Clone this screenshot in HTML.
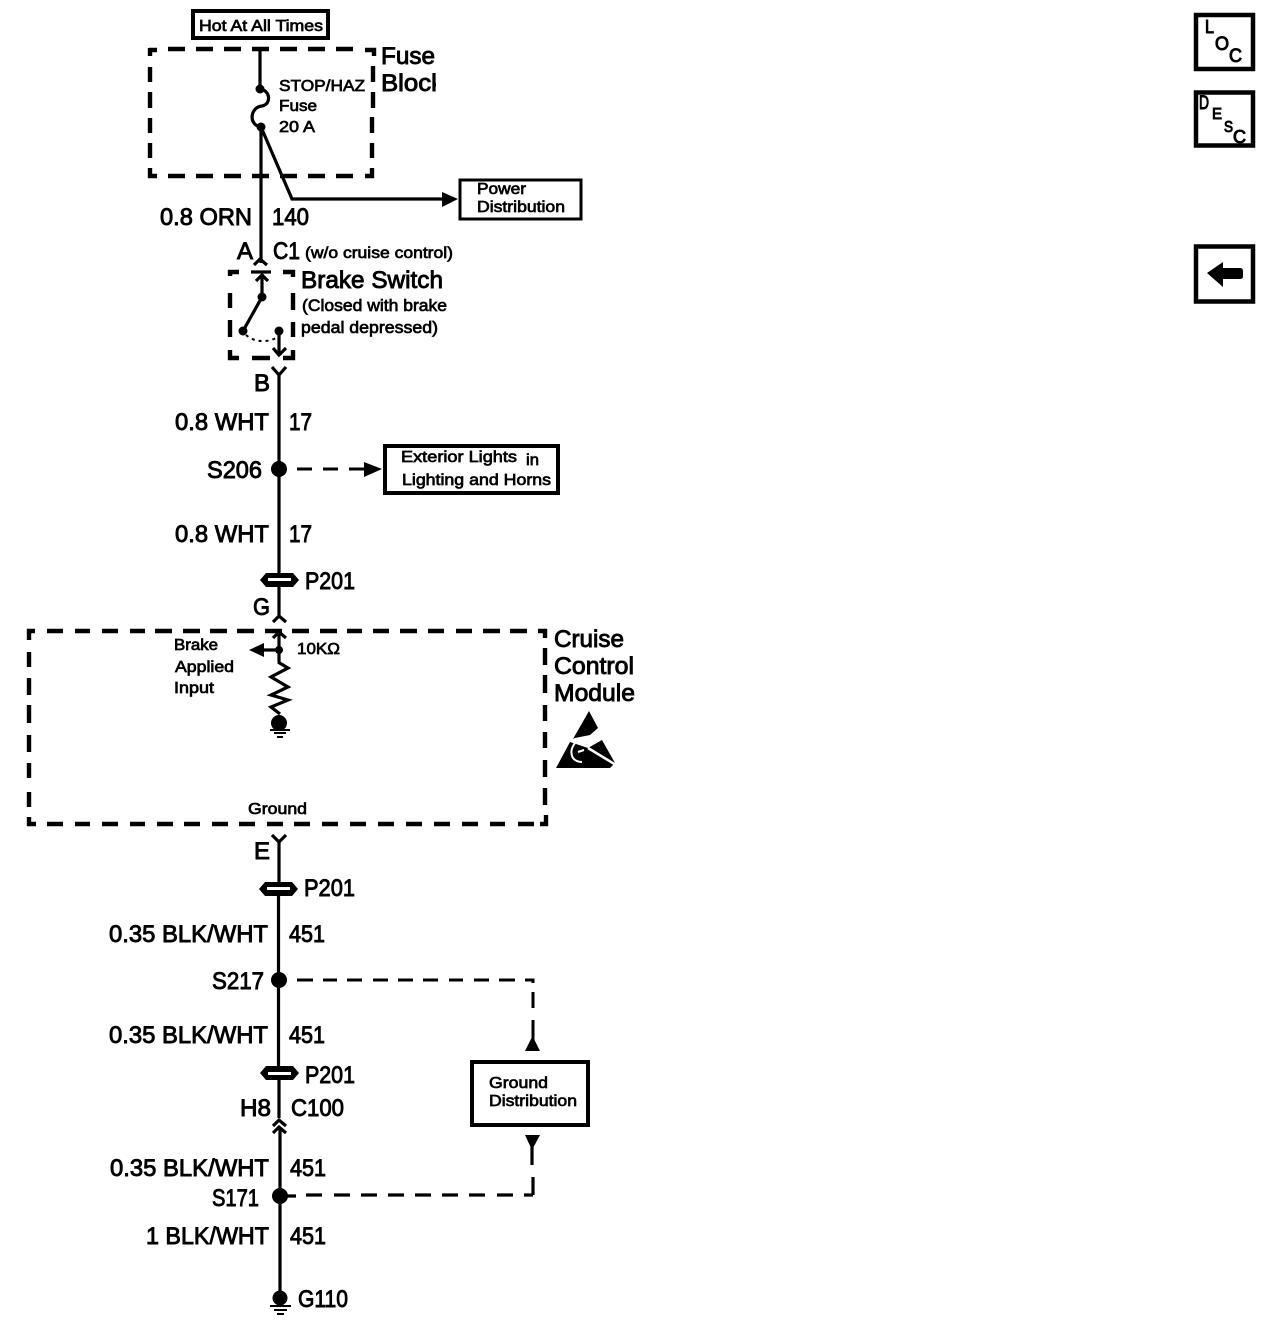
<!DOCTYPE html>
<html><head><meta charset="utf-8"><style>
html,body{margin:0;padding:0;background:#fff}
svg{display:block}
text{font-family:"Liberation Sans",sans-serif;fill:#000;stroke:#000;stroke-width:.7px}
.s{font-size:16px}.m{font-size:17px}.l{font-size:24px;stroke-width:.9px}
.w{stroke:#000;stroke-width:3.2;fill:none}
.t{stroke:#000;stroke-width:2;fill:none}
.d{stroke:#000;stroke-width:4.4;fill:none}
.n{stroke:#000;stroke-width:3;fill:none}
.b{stroke:#000;stroke-width:4;fill:#fff}
.i{stroke:#000;stroke-width:4.5;fill:#fff}
.h{stroke-width:1px}
</style></head><body>
<svg width="1268" height="1344" viewBox="0 0 1268 1344" xmlns="http://www.w3.org/2000/svg">
<defs><clipPath id="c"><rect x="375" y="40" width="61" height="60"/></clipPath></defs>

<!-- Top -->
<rect x="193" y="11" width="135" height="27" class="b"/>
<text x="199" y="31" class="s" textLength="124" lengthAdjust="spacingAndGlyphs">Hot At All Times</text>
<path class="d" d="M149 50H157M168 49H185M196 49H213M224 49H241M252 49H269M280 49H297M308 49H325M336 49H353M365 50H374V56M373 66V82M373 92V108M372 117V133M372 143V158M372 168V176H365M353 176H336M325 176H308M297 176H280M269 176H252M241 176H224M213 176H196M185 176H168M157 176H150V168M150 158V143M150 133V118M150 108V92M150 82V67M150 56V48"/>
<g clip-path="url(#c)"><text x="381" y="64" class="l" textLength="54" lengthAdjust="spacingAndGlyphs">Fuse</text>
<text x="381" y="91" class="l" textLength="63" lengthAdjust="spacingAndGlyphs">Block</text></g>
<path class="w" d="M260 48V89"/><circle cx="260" cy="89" r="4.500"/>
<path class="w" d="M260 89C270 90 272 104 262 106C250 107 248 125 261 127"/><circle cx="261" cy="127" r="4.500"/>
<path class="w" d="M261 127V263M261 127L292 199H445"/>
<path d="M442 192L458 199L442 207Z"/>
<text x="279" y="91" class="s" textLength="86" lengthAdjust="spacingAndGlyphs">STOP/HAZ</text>
<text x="279" y="111" class="s" textLength="38" lengthAdjust="spacingAndGlyphs">Fuse</text>
<text x="279" y="132" class="s" textLength="36" lengthAdjust="spacingAndGlyphs">20 A</text>
<rect x="460" y="180" width="121" height="39" fill="#fff" stroke="#000" stroke-width="3"/>
<text x="477" y="194" class="s" textLength="49" lengthAdjust="spacingAndGlyphs">Power</text>
<text x="477" y="212" class="s" textLength="88" lengthAdjust="spacingAndGlyphs">Distribution</text>
<text x="160" y="225" class="l" textLength="92" lengthAdjust="spacingAndGlyphs">0.8 ORN</text>
<text x="272" y="225" class="l" textLength="37" lengthAdjust="spacingAndGlyphs">140</text>
<text x="237" y="259" class="l" textLength="16" lengthAdjust="spacingAndGlyphs">A</text>
<text x="273" y="259" class="l" textLength="27" lengthAdjust="spacingAndGlyphs">C1</text>
<text x="305" y="258" class="s" textLength="148" lengthAdjust="spacingAndGlyphs">(w/o cruise control)</text>

<!-- Brake switch -->
<path class="w" d="M254 265L260 259L267 265"/>
<path class="d" d="M239 272H230V276M230 293V308M230 320V337M230 350V358H239M252 358H270M283 358H293V350M293 337V322M293 310V293M293 277V272H283"/>
<path class="w" d="M251 272H271M262 274V297M256 281L262 275L268 281"/>
<circle cx="262" cy="297" r="4.500"/><circle cx="243" cy="331" r="4.500"/><circle cx="279" cy="331" r="4.500"/>
<path class="w" d="M262 297L243 331"/>
<path d="M246 335C254 342 266 343 276 338" fill="none" stroke="#000" stroke-width="2" stroke-dasharray="3 4"/>
<path class="w" d="M279 331V355M273 348L279 355L286 348"/>
<text x="301" y="288" class="l" textLength="142" lengthAdjust="spacingAndGlyphs">Brake Switch</text>
<text x="302" y="311" class="m" textLength="145" lengthAdjust="spacingAndGlyphs">(Closed with brake</text>
<text x="301" y="333" class="m" textLength="137" lengthAdjust="spacingAndGlyphs">pedal depressed)</text>
<path class="w" d="M272 367L279 375L286 367M279 375V574"/>
<text x="254" y="391" class="l" textLength="16" lengthAdjust="spacingAndGlyphs">B</text>
<text x="175" y="430" class="l" textLength="94" lengthAdjust="spacingAndGlyphs">0.8 WHT</text>
<text x="289" y="430" class="l" textLength="23" lengthAdjust="spacingAndGlyphs">17</text>
<text x="207" y="478" class="l" textLength="55" lengthAdjust="spacingAndGlyphs">S206</text>
<circle cx="279" cy="469" r="8"/>
<path class="n" d="M297 469H312M323 469H338M349 469H368"/><path d="M364 462L382 469L364 477Z"/>
<rect x="385" y="446" width="173" height="47" class="b"/>
<text x="401" y="462" class="s" textLength="116" lengthAdjust="spacingAndGlyphs">Exterior Lights</text>
<text x="526" y="465" class="s" textLength="13" lengthAdjust="spacingAndGlyphs">in</text>
<text x="402" y="485" class="s" textLength="149" lengthAdjust="spacingAndGlyphs">Lighting and Horns</text>
<text x="175" y="542" class="l" textLength="94" lengthAdjust="spacingAndGlyphs">0.8 WHT</text>
<text x="289" y="542" class="l" textLength="23" lengthAdjust="spacingAndGlyphs">17</text>

<!-- P201 top -->
<path d="M260 580L266 573H293L299 580L293 587H266Z"/><rect x="268" y="578" width="23" height="3" fill="#fff"/>
<text x="305" y="589" class="l" textLength="50" lengthAdjust="spacingAndGlyphs">P201</text>
<path class="w" d="M279 587V618M273 622L279 616L286 622"/>
<text x="253" y="615" class="l" textLength="17" lengthAdjust="spacingAndGlyphs">G</text>

<!-- Module -->
<path class="d" d="M35 631H29V640M29 652V667M29 678V695M29 705V723M29 735V752M29 763V778M29 792V807M29 817V824H36M47 824H63M75 824H90M102 824H118M130 824H145M157 824H173M184 824H200M212 824H228M239 824H255M267 824H283M294 824H310M322 824H338M350 824H366M378 824H394M406 824H422M434 824H450M462 824H478M490 824H505M518 824H534M540 824H546V815M545 805V788M545 777V760M545 748V732M545 721V705M545 693V675M545 665V648M545 638V631H538M527 631H510M500 631H483M472 631H456M444 631H428M417 631H400M389 631H373M362 631H347M337 631H320M309 631H292M282 631H265M254 631H237M227 631H210M200 631H183M172 631H155M145 631H130M118 631H102M90 631H75M63 631H47"/>
<text x="174" y="650" class="s" textLength="44" lengthAdjust="spacingAndGlyphs">Brake</text>
<text x="175" y="672" class="s" textLength="59" lengthAdjust="spacingAndGlyphs">Applied</text>
<text x="174" y="693" class="s" textLength="40" lengthAdjust="spacingAndGlyphs">Input</text>
<text x="297" y="654" class="s" textLength="43" lengthAdjust="spacingAndGlyphs">10KΩ</text>
<path class="w" d="M279 631V662M273 638L279 632L286 638M279 650H262"/>
<path d="M249 650L264 643V657Z"/><circle cx="279" cy="650" r="4"/>
<path class="w" d="M278 662L288 668L271 677L288 687L271 695L288 700L271 707L280 714"/>
<circle cx="279" cy="723" r="8"/>
<path class="t" d="M270 730H290M274 733H286M277 737H283"/>
<text x="554" y="647" class="l" textLength="70" lengthAdjust="spacingAndGlyphs">Cruise</text>
<text x="554" y="674" class="l" textLength="80" lengthAdjust="spacingAndGlyphs">Control</text>
<text x="554" y="701" class="l" textLength="81" lengthAdjust="spacingAndGlyphs">Module</text>
<!-- ESD symbol -->
<path d="M589 711L598 728L590 735L575 738L573 739Z"/>
<path d="M556 768L570 742L588 748L602 740L615 763L610 768Z"/>
<path d="M588 748L616 765" stroke="#fff" stroke-width="2.500"/>
<path d="M575 743Q569 751 573 758Q576 762 582 762M578 752L584 750" stroke="#fff" stroke-width="2" fill="none"/>
<text x="248" y="814" class="s" textLength="59" lengthAdjust="spacingAndGlyphs">Ground</text>
<text x="254" y="859" class="l" textLength="16" lengthAdjust="spacingAndGlyphs">E</text>
<path class="w" d="M272 835L279 842L286 835M279 842V882"/>

<!-- Lower -->
<path d="M259 889L265 882H292L298 889L292 896H265Z"/><rect x="267" y="887" width="23" height="3" fill="#fff"/>
<text x="304" y="896" class="l" textLength="51" lengthAdjust="spacingAndGlyphs">P201</text>
<path class="w" d="M278.500 894V1067"/>
<text x="109" y="942" class="l" textLength="159" lengthAdjust="spacingAndGlyphs">0.35 BLK/WHT</text>
<text x="289" y="942" class="l" textLength="36" lengthAdjust="spacingAndGlyphs">451</text>
<text x="212" y="989" class="l" textLength="52" lengthAdjust="spacingAndGlyphs">S217</text>
<circle cx="279" cy="980" r="8"/>
<path class="n" d="M297 980H313M323 980H337M347 980H362M373 980H388M398 980H413M423 980H438M449 980H463M474 980H489M499 980H515M525 980H533V983M533 992V1008M533 1020V1040"/><path d="M525 1051L532.500 1036L540 1051Z"/>
<text x="109" y="1043" class="l" textLength="159" lengthAdjust="spacingAndGlyphs">0.35 BLK/WHT</text>
<text x="289" y="1043" class="l" textLength="36" lengthAdjust="spacingAndGlyphs">451</text>
<path d="M260 1073L266 1066H293L299 1073L293 1080H266Z"/><rect x="268" y="1072" width="23" height="3" fill="#fff"/>
<text x="305" y="1083" class="l" textLength="50" lengthAdjust="spacingAndGlyphs">P201</text>
<path class="w" d="M279 1080V1118"/>
<text x="240" y="1116" class="l" textLength="31" lengthAdjust="spacingAndGlyphs">H8</text>
<text x="291" y="1116" class="l" textLength="53" lengthAdjust="spacingAndGlyphs">C100</text>
<path class="w" d="M273 1126L279 1120L286 1126M273 1133L279 1127L286 1133M280 1127V1305"/>
<rect x="472" y="1062" width="116" height="63" class="b"/>
<text x="489" y="1088" class="s" textLength="59" lengthAdjust="spacingAndGlyphs">Ground</text>
<text x="489" y="1106" class="s" textLength="88" lengthAdjust="spacingAndGlyphs">Distribution</text>
<path d="M525 1135H540L532 1150Z"/>
<path class="w" d="M532 1145V1165M533 1177V1195M533 1195H524M513 1195H497M485 1195H469M458 1195H442M431 1195H415M404 1195H388M377 1195H361M350 1195H334M322 1195H306M296 1196H286"/>
<text x="110" y="1176" class="l" textLength="159" lengthAdjust="spacingAndGlyphs">0.35 BLK/WHT</text>
<text x="290" y="1176" class="l" textLength="36" lengthAdjust="spacingAndGlyphs">451</text>
<text x="212" y="1206" class="l" textLength="47" lengthAdjust="spacingAndGlyphs">S171</text>
<circle cx="280" cy="1196" r="8"/>
<text x="146" y="1244" class="l" textLength="123" lengthAdjust="spacingAndGlyphs">1 BLK/WHT</text>
<text x="290" y="1244" class="l" textLength="36" lengthAdjust="spacingAndGlyphs">451</text>
<circle cx="280" cy="1298" r="7.500"/>
<path class="t" d="M270 1306H291M274 1310H287M277 1314H284"/>
<text x="298" y="1307" class="l" textLength="50" lengthAdjust="spacingAndGlyphs">G110</text>

<!-- Icons -->
<rect x="1196" y="15" width="57" height="54" class="i"/>
<text x="1205" y="33" class="h" font-size="18" textLength="9" lengthAdjust="spacingAndGlyphs">L</text>
<text x="1215" y="50" class="h" font-size="19" textLength="14" lengthAdjust="spacingAndGlyphs">O</text>
<text x="1229" y="62" class="h" font-size="19" textLength="13" lengthAdjust="spacingAndGlyphs">C</text>
<rect x="1196" y="92.500" width="57" height="53" class="i"/>
<text x="1199" y="109" class="h" font-size="19" textLength="10" lengthAdjust="spacingAndGlyphs">D</text>
<text x="1212" y="119" class="h" font-size="16" textLength="10" lengthAdjust="spacingAndGlyphs">E</text>
<text x="1224" y="132" class="h" font-size="16" textLength="9" lengthAdjust="spacingAndGlyphs">S</text>
<text x="1233" y="143" class="h" font-size="18" textLength="13" lengthAdjust="spacingAndGlyphs">C</text>
<rect x="1196" y="246.500" width="57" height="55" class="i"/>
<path d="M1207 273L1223 262V268H1240Q1243 268 1243 271V276Q1243 279 1240 279H1223V287Z"/>
</svg>
</body></html>
